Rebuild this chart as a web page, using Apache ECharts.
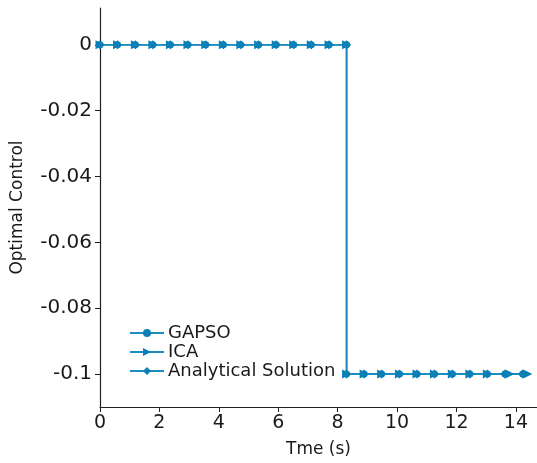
<!DOCTYPE html>
<html><head><meta charset="utf-8">
<script src="https://cdn.jsdelivr.net/npm/echarts@6/dist/echarts.min.js"></script>
<style>html,body{margin:0;padding:0;background:#fff}#c{width:537px;height:463px}</style>
</head><body><div id="c"></div>
<script>
// Time samples (s) and control values
const timeZero = [0, 0.59, 1.19, 1.78, 2.37, 2.96, 3.56, 4.15, 4.74, 5.34, 5.93, 6.52, 7.11, 7.71, 8.30];
const timeNeg = [8.30, 8.89, 9.48, 10.08, 10.67, 11.26, 11.86, 12.45, 13.04, 13.63, 14.23];
const timeNegICA = [8.30, 8.89, 9.48, 10.08, 10.67, 11.26, 11.86, 12.45, 13.04, 13.80, 14.40];
const uBefore = 0;
const uAfter = -0.1;
const xTicks = [0, 2, 4, 6, 8, 10, 12, 14];
const yTicks = [-0.1, -0.08, -0.06, -0.04, -0.02, 0];
const seriesNames = ['GAPSO', 'ICA', 'Analytical Solution'];

function build(tz, tn) {
  return tz.map(t => [t, uBefore]).concat(tn.map(t => [t, uAfter]));
}
const color = '#0b80b6';
const font = 'DejaVu Sans';
const chart = echarts.init(document.getElementById('c'));
const mk = (name, data, symbol, rot, size) => ({
  name, type: 'line', data, symbol, symbolSize: size, symbolRotate: rot,
  showSymbol: true,
  itemStyle: {color: color},
  lineStyle: {color: '#1a8cc0', width: 1.5},
  animation: false
});
chart.setOption({
  backgroundColor: '#fff',
  grid: {left: 100, right: 0, top: 8, bottom: 56},
  legend: {
    orient: 'vertical', left: 124, top: 319, itemGap: 1,
    itemWidth: 34, itemHeight: 10,
    textStyle: {fontFamily: font, fontSize: 18, color: '#1a1a1a', padding: [0,0,0,-1]},
    data: seriesNames
  },
  xAxis: {
    type: 'value', min: 0, max: 14.71,
    name: 'Tme (s)', nameLocation: 'middle', nameGap: 34,
    nameTextStyle: {fontFamily: font, fontSize: 17, color: '#1a1a1a'},
    axisLine: {onZero: false, lineStyle: {color: '#222', width: 1.2}},
    axisTick: {customValues: xTicks, length: 5, lineStyle: {color: '#222'}},
    axisLabel: {customValues: xTicks, fontFamily: font, fontSize: 19, color: '#1a1a1a', margin: 7},
    splitLine: {show: false}
  },
  yAxis: {
    type: 'value', min: -0.11, max: 0.0112,
    name: 'Optimal Control', nameLocation: 'middle', nameGap: 74,
    nameTextStyle: {fontFamily: font, fontSize: 17, color: '#1a1a1a'},
    axisLine: {show: true, lineStyle: {color: '#222', width: 1.2}},
    axisTick: {show: true, customValues: yTicks, length: 5, lineStyle: {color: '#222'}},
    axisLabel: {customValues: yTicks, fontFamily: font, fontSize: 20, color: '#1a1a1a', margin: 8,
      formatter: v => String(+(+v).toFixed(2))},
    splitLine: {show: false}
  },
  series: [
    mk(seriesNames[0], build(timeZero, timeNeg), 'circle', 0, 7),
    mk(seriesNames[1], build(timeZero, timeNegICA), 'triangle', -90, 9),
    mk(seriesNames[2], build(timeZero, timeNeg), 'diamond', 0, 9)
  ]
});
</script></body></html>
